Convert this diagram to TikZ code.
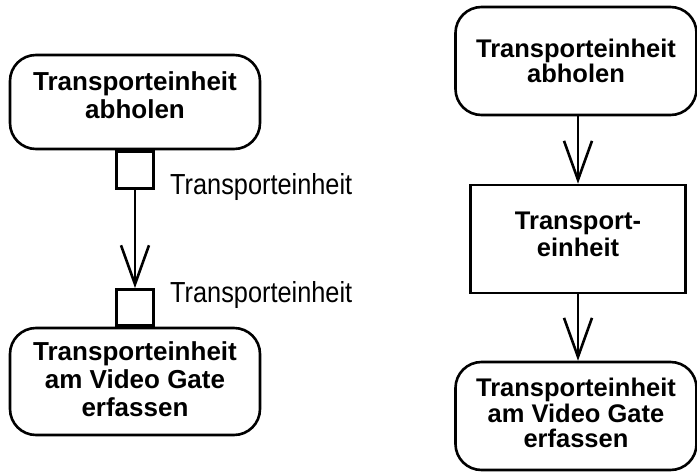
\documentclass[tikz,border=0pt]{standalone}
\usepackage{fontspec}
\setmainfont{Liberation Sans}
\usetikzlibrary{arrows.meta}
\begin{document}
\begin{tikzpicture}[x=1pt,y=-1pt,
  lw/.style={line width=2.6pt},
  action/.style={lw, draw, rounded corners=26pt, align=center, inner sep=0pt,
    font=\fontsize{26}{28}\selectfont\bfseries},
  raction/.style={action, font=\fontsize{25.5}{25.5}\selectfont\bfseries},
  objbox/.style={lw, draw, align=center, inner sep=0pt,
    font=\fontsize{25.5}{27}\selectfont\bfseries},
  pinbox/.style={lw, draw, inner sep=0pt, minimum width=37pt, minimum height=37pt},
  flow/.style={lw, -{Straight Barb[length=39pt,width=28pt]}},
  lbl/.style={inner sep=0pt, anchor=base west, font=\fontsize{29}{29}\selectfont}
]
\useasboundingbox (0,0) rectangle (697,472);

% left diagram
\node[action, minimum width=250pt, minimum height=94pt, text depth=13pt] (a1) at (135,102)
  {Transporteinheit\\abholen};
\node[action, minimum width=250pt, minimum height=107pt, text depth=4pt] (a2) at (135,381.5)
  {Transporteinheit\\am Video Gate\\erfassen};
\node[pinbox, anchor=north] (p1) at (a1.south) {};
\node[pinbox, anchor=south, minimum height=36pt] (p2) at (a2.north) {};
\draw[flow] (p1.south) -- (p2.north);
\node[lbl] (l1) at (170,194) {\scalebox{0.873}[1]{Transporteinheit}};
\node[lbl] (l2) at (170,302) {\scalebox{0.873}[1]{Transporteinheit}};

% right diagram
\node[raction, minimum width=241pt, minimum height=108pt] (r1) at (576,61)
  {Transporteinheit\\abholen};
\node[objbox, minimum width=215pt, minimum height=108pt, text depth=10pt] (r2) at (578,239)
  {Transport-\\einheit};
\node[raction, minimum width=241pt, minimum height=108pt, text depth=6pt] (r3) at (576,416)
  {Transporteinheit\\am Video Gate\\erfassen};
\draw[flow] (r1.south -| r2.north) -- (r2.north);
\draw[flow] (r2.south) -- (r3.north -| r2.south);
\end{tikzpicture}
\end{document}
